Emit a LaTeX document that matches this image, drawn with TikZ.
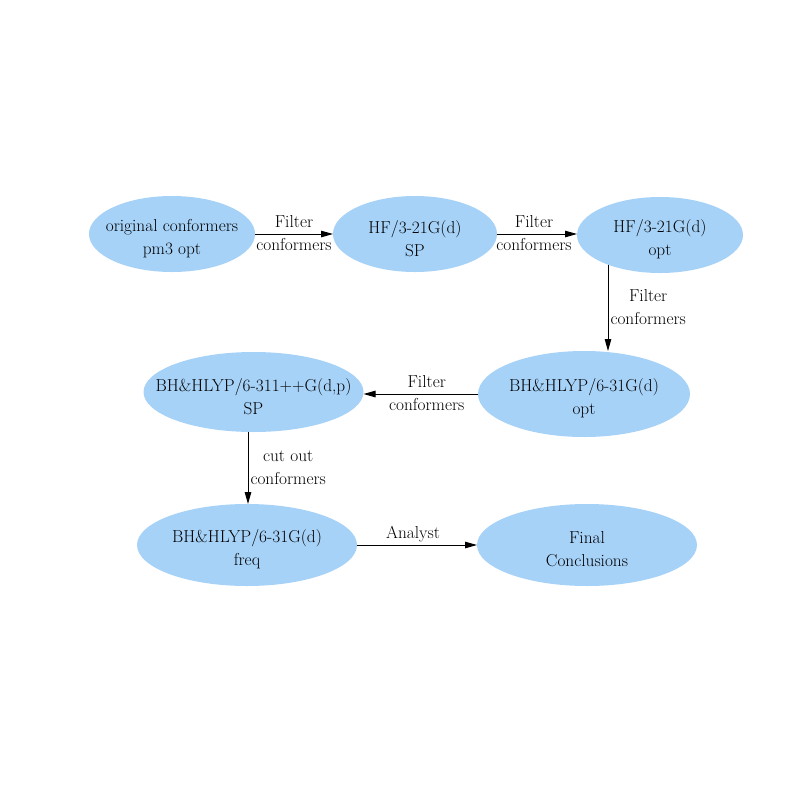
\documentclass[tikz,border=0pt]{standalone}
\usetikzlibrary{shapes.geometric,arrows.meta,calc}
\definecolor{nodeblue}{RGB}{167,210,248}
\pgfdeclarelayer{background}
\pgfsetlayers{background,main}
\begin{document}
\begin{tikzpicture}[x=1pt,y=-1pt,
  stage/.style={ellipse,fill=nodeblue,draw=none,inner sep=0pt,outer sep=0pt},
  stagetext/.style={align=center,inner sep=0pt,yshift=-4.5pt,
    font=\fontsize{17.3}{23}\selectfont},
  arr/.style={-{Triangle[length=12pt,width=6.5pt]},line width=1pt,black},
  lbl/.style={align=center,font=\fontsize{17.3}{23}\selectfont,inner sep=2pt}]
\useasboundingbox (0,0) rectangle (812,812);
\node[stage,minimum width=166pt,minimum height=76pt] (n1) at (172,234) {};
\node[stagetext] (t1) at (n1) {original conformers\\pm3 opt};
\node[stage,minimum width=164pt,minimum height=76pt] (n2) at (415,234) {};
\node[stagetext] (t2) at (n2) {HF/3-21G(d)\\SP};
\node[stage,minimum width=166pt,minimum height=76pt] (n3) at (660,235) {};
\node[stagetext] (t3) at (n3) {HF/3-21G(d)\\opt};
\node[stage,minimum width=212pt,minimum height=86pt] (n4) at (584,394) {};
\node[stagetext] (t4) at (n4) {BH\&HLYP/6-31G(d)\\opt};
\node[stage,minimum width=220pt,minimum height=80pt] (n5) at (253.5,392) {};
\node[stagetext] (t5) at (n5) {BH\&HLYP/6-311++G(d,p)\\SP};
\node[stage,minimum width=220pt,minimum height=82pt] (n6) at (247,545) {};
\node[stagetext] (t6) at (n6) {BH\&HLYP/6-31G(d)\\freq};
\node[stage,minimum width=220pt,minimum height=82pt] (n7) at (587,545) {};
\node[stagetext] (t7) at (n7) {Final\\Conclusions};

\draw[arr] (n1.east) -- node[lbl,yshift=1pt]{Filter\\conformers} (n1.east -| n2.west);
\draw[arr] (n2.east) -- node[lbl,xshift=-3pt,yshift=1pt]{Filter\\conformers} (n2.east -| n3.west);
\draw[arr] (n4.west) -- node[lbl,xshift=6pt,yshift=1pt]{Filter\\conformers} (n4.west -| n5.east);
\draw[arr] (n6.east) -- node[lbl,above,xshift=-4pt]{Analyst} (n6.east -| n7.west);
\begin{pgfonlayer}{background}
\coordinate (s3) at ($(n3.center)+(-52,0)$);
\coordinate (s5) at ($(n5.center)+(-5.5,0)$);
\draw[arr] (s3) -- node[lbl,right,pos=0.62]{Filter\\conformers} (s3 |- n4.north);
\draw[arr] (s5) -- node[lbl,right,pos=0.675]{cut out\\conformers} (s5 |- n6.north);
\end{pgfonlayer}
\end{tikzpicture}
\end{document}
